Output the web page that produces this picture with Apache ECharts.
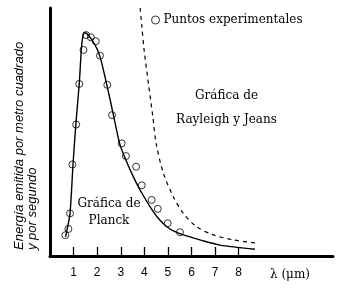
<!DOCTYPE html>
<html><head><meta charset="utf-8">
<script src="https://cdn.jsdelivr.net/npm/echarts@6/dist/echarts.min.js"></script>
<style>html,body{margin:0;padding:0;background:#fff}#c{width:339px;height:292px}</style>
</head><body><div id="c"></div>
<script>
// Wavelength (µm) / energy (arbitrary units, axis top = 100)
const pointsX = [0.65,0.78,0.85,0.95,1.11,1.24,1.42,1.53,1.73,1.94,2.12,2.43,2.63,3.04,3.22,3.65,3.89,4.31,4.57,4.99,5.51];
const pointsY = [8.4,10.9,17.2,36.9,53.0,69.4,83.1,89.1,88.2,86.6,80.8,69.0,56.8,45.4,40.3,36.0,28.5,22.6,19.0,13.2,9.6];
const planckX = [0.66,0.75,0.85,0.98,1.10,1.24,1.32,1.37,1.46,1.62,1.91,2.12,2.33,2.55,2.76,2.97,3.25,3.53,3.82,4.24,4.59,4.95,5.30,5.80,6.50,7.21,7.92,8.69];
const planckY = [7.7,11.8,17.3,37.5,53.6,69.5,81.9,87.1,90.0,89.1,85.1,80.4,72.3,63.0,53.6,44.8,38.0,32.0,26.6,19.9,15.2,11.8,9.8,8.1,6.1,4.4,3.5,2.7];
const rjX = [3.82,3.89,3.99,4.17,4.36,4.50,4.81,5.23,5.65,6.22,6.93,7.77,8.83];
const rjY = [100,93.1,83.1,69.8,56.2,45.4,33.3,23.9,17.2,11.8,8.5,6.5,5.1];
const tickValues = [1,2,3,4,5,6,7,8];
const xName = 'λ (μm)';
const yNameLines = ['Energía emitida por metro cuadrado', 'y por segundo'];
const legendName = 'Puntos experimentales';
const planckLabel = ['Gráfica de', 'Planck'];
const rjLabel = ['Gráfica de', 'Rayleigh y Jeans'];

const zip = (a, b) => a.map((v, i) => [v, b[i]]);
const serif = 'DejaVu Serif';
const chart = echarts.init(document.getElementById('c'));
chart.setOption({
  animation: false,
  grid: {left: 50, right: 6, top: 8, bottom: 36, outerBoundsMode: 'none'},
  legend: {
    left: 146, top: 9, itemWidth: 8, itemHeight: 8, itemGap: 4,
    data: [{name: legendName, icon: 'circle', itemStyle: {color: '#fff', borderColor: '#000', borderWidth: 1}}],
    textStyle: {fontFamily: serif, fontSize: 12, color: '#000', padding: [0,0,0,-1]}
  },
  xAxis: {
    type: 'value', min: 0, max: 12, interval: 1,
    splitLine: {show: false},
    axisLine: {lineStyle: {color: '#000', width: 3}},
    axisTick: {inside: true, length: 9, lineStyle: {color: '#000', width: 1.3}, customValues: tickValues},
    axisLabel: {customValues: tickValues, color: '#000', fontFamily: 'Liberation Sans', fontSize: 12, margin: 11},
    name: xName, nameLocation: 'end', nameGap: 0,
    nameTextStyle: {fontFamily: serif, fontSize: 12, color: '#000', align: 'left', verticalAlign: 'top', padding: [13,0,0,-63]}
  },
  yAxis: {
    type: 'value', min: 0, max: 100,
    splitLine: {show: false},
    axisLine: {show: true, lineStyle: {color: '#000', width: 3}},
    axisTick: {show: false}, axisLabel: {show: false}
  },
  graphic: [
    {type: 'text', x: 19, y: 250, rotation: Math.PI/2, style: {text: yNameLines[0], font: 'italic 13px "Liberation Sans"', fill: '#000', textAlign: 'left', textVerticalAlign: 'middle'}},
    {type: 'text', x: 32, y: 250, rotation: Math.PI/2, style: {text: yNameLines[1], font: 'italic 13px "Liberation Sans"', fill: '#000', textAlign: 'left', textVerticalAlign: 'middle'}},
    {type: 'text', x: 109, y: 204, style: {text: planckLabel[0], font: '12px "DejaVu Serif"', fill: '#000', textAlign: 'center', textVerticalAlign: 'middle'}},
    {type: 'text', x: 109, y: 221, style: {text: planckLabel[1], font: '12px "DejaVu Serif"', fill: '#000', textAlign: 'center', textVerticalAlign: 'middle'}},
    {type: 'text', x: 226.5, y: 96, style: {text: rjLabel[0], font: '12px "DejaVu Serif"', fill: '#000', textAlign: 'center', textVerticalAlign: 'middle'}},
    {type: 'text', x: 226.5, y: 120, style: {text: rjLabel[1], font: '12px "DejaVu Serif"', fill: '#000', textAlign: 'center', textVerticalAlign: 'middle'}}
  ],
  series: [
    {name: 'Planck', type: 'line', data: zip(planckX, planckY), smooth: 0.3, showSymbol: false,
     lineStyle: {color: '#000', width: 1.4}},
    {name: 'Rayleigh-Jeans', type: 'line', data: zip(rjX, rjY), smooth: 0.3, showSymbol: false,
     lineStyle: {color: '#000', width: 1.2, type: [4, 4]}},
    {name: legendName, type: 'scatter', data: zip(pointsX, pointsY), symbol: 'circle', symbolSize: 7,
     itemStyle: {color: 'rgba(255,255,255,0)', borderColor: '#000', borderWidth: 1}}
  ]
});
</script></body></html>
